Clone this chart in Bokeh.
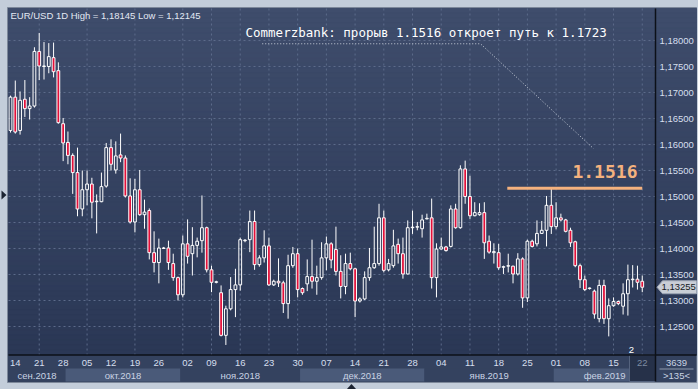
import numpy as np
from bokeh.plotting import figure
from bokeh.models import Range1d
from bokeh.core.properties import value
from bokeh.embed import file_html
from bokeh.resources import INLINE

# ---------------- data (EUR/USD daily) ----------------
opens = [1.1627, 1.1691, 1.1627, 1.1687, 1.1669, 1.1674, 1.1779, 1.1750, 1.1750, 1.1767,
         1.1742, 1.1640, 1.1604, 1.1579, 1.1546, 1.1476, 1.1513, 1.1524, 1.1490, 1.1490,
         1.1520, 1.1594, 1.1551, 1.1580, 1.1574, 1.1501, 1.1451, 1.1513, 1.1465, 1.1473,
         1.1392, 1.1373, 1.1400, 1.1401, 1.1371, 1.1344, 1.1311, 1.1409, 1.1390, 1.1406,
         1.1415, 1.1440, 1.1359, 1.1335, 1.1315, 1.1233, 1.1284, 1.1321, 1.1330, 1.1415,
         1.1417, 1.1452, 1.1369, 1.1382, 1.1405, 1.1330, 1.1337, 1.1334, 1.1294, 1.1367,
         1.1390, 1.1323, 1.1332, 1.1346, 1.1337, 1.1344, 1.1382, 1.1409, 1.1398, 1.1356,
         1.1327, 1.1371, 1.1361, 1.1299, 1.1303, 1.1344, 1.1363, 1.1371, 1.1459, 1.1359,
         1.1367, 1.1408, 1.1390, 1.1351, 1.1440, 1.1441, 1.1438, 1.1457, 1.1459, 1.1344,
         1.1399, 1.1403, 1.1404, 1.1476, 1.1440, 1.1553, 1.1500, 1.1463, 1.1465, 1.1469,
         1.1414, 1.1392, 1.1392, 1.1364, 1.1366, 1.1366, 1.1351, 1.1380, 1.1305, 1.1414,
         1.1409, 1.1429, 1.1435, 1.1483, 1.1442, 1.1459, 1.1455, 1.1435, 1.1413, 1.1367,
         1.1340, 1.1323, 1.1318, 1.1265, 1.1329, 1.1265, 1.1290, 1.1298, 1.1289, 1.1313,
         1.1340, 1.1341, 1.1337]
closes = [1.1691, 1.1624, 1.1685, 1.1669, 1.1674, 1.1779, 1.1751, 1.1751, 1.1769, 1.1740,
          1.1642, 1.1603, 1.1579, 1.1546, 1.1476, 1.1513, 1.1524, 1.1489, 1.1491, 1.1519,
          1.1594, 1.1562, 1.1578, 1.1574, 1.1501, 1.1451, 1.1513, 1.1465, 1.1470, 1.1392,
          1.1373, 1.1401, 1.1401, 1.1373, 1.1344, 1.1311, 1.1409, 1.1385, 1.1406, 1.1414,
          1.1440, 1.1359, 1.1335, 1.1336, 1.1233, 1.1284, 1.1321, 1.1330, 1.1417, 1.1416,
          1.1452, 1.1369, 1.1382, 1.1405, 1.1330, 1.1337, 1.1334, 1.1294, 1.1367, 1.1390,
          1.1321, 1.1315, 1.1346, 1.1337, 1.1344, 1.1382, 1.1409, 1.1378, 1.1356, 1.1327,
          1.1371, 1.1361, 1.1299, 1.1303, 1.1344, 1.1363, 1.1371, 1.1459, 1.1358, 1.1371,
          1.1405, 1.1390, 1.1351, 1.1440, 1.1441, 1.1442, 1.1455, 1.1458, 1.1344, 1.1399,
          1.1403, 1.1396, 1.1476, 1.1440, 1.1553, 1.1500, 1.1463, 1.1469, 1.1469, 1.1411,
          1.1393, 1.1394, 1.1363, 1.1365, 1.1367, 1.1351, 1.1380, 1.1305, 1.1414, 1.1404,
          1.1429, 1.1435, 1.1483, 1.1442, 1.1459, 1.1455, 1.1433, 1.1411, 1.1367, 1.1340,
          1.1321, 1.1324, 1.1274, 1.1329, 1.1265, 1.1290, 1.1298, 1.1294, 1.1313, 1.1340,
          1.1341, 1.1335, 1.13255]
highs = [1.1694, 1.1723, 1.1702, 1.1724, 1.1691, 1.1787, 1.18145, 1.1797, 1.1795, 1.1796,
         1.1758, 1.1651, 1.1625, 1.1583, 1.1594, 1.1550, 1.1550, 1.1536, 1.1504, 1.1546,
         1.1603, 1.1610, 1.1606, 1.1621, 1.1579, 1.1535, 1.1534, 1.1551, 1.1494, 1.1477,
         1.1433, 1.1419, 1.1403, 1.1415, 1.1390, 1.1346, 1.1425, 1.1456, 1.1441, 1.1421,
         1.1502, 1.1442, 1.1367, 1.1338, 1.1329, 1.1290, 1.1345, 1.1361, 1.1421, 1.1418,
         1.1473, 1.1473, 1.1387, 1.1435, 1.1421, 1.1340, 1.1381, 1.1338, 1.1388, 1.1403,
         1.1400, 1.1325, 1.1379, 1.1417, 1.1367, 1.1412, 1.1423, 1.1412, 1.1442, 1.1387,
         1.1390, 1.1392, 1.1363, 1.1306, 1.1356, 1.1401, 1.1442, 1.1486, 1.1473, 1.1380,
         1.1436, 1.1419, 1.1421, 1.1454, 1.1473, 1.1451, 1.1465, 1.1467, 1.1496, 1.1410,
         1.1421, 1.1405, 1.1483, 1.1486, 1.1560, 1.1569, 1.1540, 1.1489, 1.1487, 1.1489,
         1.1425, 1.1410, 1.1409, 1.1367, 1.1390, 1.1367, 1.1391, 1.1383, 1.1417, 1.1417,
         1.1454, 1.1453, 1.1501, 1.1516, 1.1489, 1.1467, 1.1457, 1.1440, 1.1415, 1.1371,
         1.1348, 1.1325, 1.1321, 1.1340, 1.1340, 1.1304, 1.1306, 1.1300, 1.1333, 1.1369,
         1.1368, 1.1367, 1.1348]
lows = [1.1623, 1.1621, 1.1619, 1.1653, 1.1648, 1.1671, 1.1724, 1.1725, 1.1737, 1.1729,
        1.1640, 1.1568, 1.1562, 1.1505, 1.1462, 1.1462, 1.1483, 1.1458, 1.1429, 1.1489,
        1.1517, 1.1550, 1.1544, 1.1566, 1.1498, 1.1448, 1.1431, 1.1463, 1.1438, 1.1379,
        1.1354, 1.1333, 1.1399, 1.1359, 1.1338, 1.1300, 1.1306, 1.1371, 1.1348, 1.1383,
        1.1392, 1.1354, 1.1316, 1.1333, 1.1231, 1.12145, 1.1281, 1.1268, 1.1319, 1.1412,
        1.1393, 1.1359, 1.1365, 1.1373, 1.1328, 1.1328, 1.1326, 1.1276, 1.1265, 1.1363,
        1.1306, 1.1311, 1.1318, 1.1323, 1.1311, 1.1340, 1.1358, 1.1362, 1.1348, 1.1304,
        1.1312, 1.1358, 1.1268, 1.1296, 1.1301, 1.1338, 1.1361, 1.1367, 1.1354, 1.1356,
        1.1363, 1.1371, 1.1342, 1.1350, 1.1428, 1.1435, 1.1421, 1.1456, 1.1323, 1.1306,
        1.1398, 1.1394, 1.1402, 1.1438, 1.1438, 1.1486, 1.1457, 1.1462, 1.1463, 1.1380,
        1.1390, 1.1371, 1.1359, 1.1351, 1.1354, 1.1333, 1.1348, 1.1286, 1.1297, 1.1402,
        1.1404, 1.1428, 1.1404, 1.1428, 1.1437, 1.1452, 1.1431, 1.1403, 1.1364, 1.1324,
        1.1318, 1.1321, 1.1265, 1.1258, 1.1255, 1.1231, 1.1288, 1.1291, 1.1273, 1.1271,
        1.1325, 1.1321, 1.1316]

price_ticks = [1.125, 1.130, 1.135, 1.140, 1.145, 1.150, 1.155, 1.160, 1.165, 1.170, 1.175, 1.180]
date_tick_bars = [1, 6, 11, 16, 21, 26, 31, 37, 42, 48, 54, 60, 66, 72, 78, 84, 90, 96, 102, 108, 114, 120, 126, 132]
date_tick_labels = ["14", "21", "28", "05", "12", "19", "26", "02", "09", "16", "23", "30",
                    "07", "14", "21", "28", "04", "11", "18", "25", "01", "08", "15", "22"]
grid_bars = [6, 16, 26, 36, 42, 48, 54, 60, 66, 72, 78, 84, 90, 96, 102, 108, 114, 120, 126, 132]
month_labels = ["сен.2018", "окт.2018", "ноя.2018", "дек.2018", "янв.2019", "фев.2019"]
month_start_bars = [-0.5, 11.5, 35.5, 60.5, 86.5, 113.5]
level_price = 1.1516
level_from_bar = 103.8
title = "Commerzbank: прорыв 1.1516 откроет путь к 1.1723"
header = "EUR/USD 1D High = {} Low = {}".format(
    f"{max(highs):.5f}".replace(".", ","), f"{min(lows):.5f}".replace(".", ","))

# ---------------- geometry (page pixels) ----------------
W, H = 698, 389
PX_BAR = 4.786
PX_PRICE = 5200.0
PAN_L, PAN_T, PAN_R, PAN_B = 8, 8, 696, 381   # dark chart panel
PLOT_R = 655      # right edge of candle area
PLOT_B = 354.5    # bottom edge of candle area
x0 = -10 / PX_BAR
x1 = x0 + W / PX_BAR
y1 = 1.18 + 40 / PX_PRICE
y0 = y1 - H / PX_PRICE
xr_plot = x0 + PLOT_R / PX_BAR

LIGHT = "#c3cdda"
p = figure(width=W, height=H, x_range=Range1d(x0, x1), y_range=Range1d(y0, y1),
           output_backend="svg", toolbar_location=None, min_border=0,
           x_axis_type=None, y_axis_type=None, outline_line_color=None,
           background_fill_color=LIGHT, border_fill_color=LIGHT)
p.extra_x_ranges = {"px": Range1d(0, W)}
p.extra_y_ranges = {"py": Range1d(H, 0)}

try:
    from bokeh.models import GlobalInlineStyleSheet
    p.stylesheets = [GlobalInlineStyleSheet(css="body{background:#c3cdda;}")]
except Exception:
    pass

PX = dict(x_range_name="px", y_range_name="py")

# outer frame decorations
p.patch(x=[1, 6, 1], y=[190, 194.5, 199], fill_color="#1b2331", line_color=None, **PX)
p.patch(x=[346, 351, 356], y=[389, 383.5, 389], fill_color="#1b2331", line_color=None, **PX)
p.quad(left=[PAN_L - 1], right=[PAN_R], top=[PAN_T - 1], bottom=[PAN_B + 1],
       fill_color="#34425f", line_color="#7d889a", line_width=1, **PX)

# background gradient of the chart area
n = 70
edges = np.linspace(PAN_T, PLOT_B, n + 1)
c_top = np.array([0x3f, 0x4d, 0x6c])
c_bot = np.array([0x2b, 0x38, 0x56])
cols = []
for k in range(n):
    t = k / (n - 1)
    cc = (c_top * (1 - t) + c_bot * t).astype(int)
    cols.append("#%02x%02x%02x" % tuple(cc))
p.quad(left=PAN_L, right=PAN_R, top=edges[:-1], bottom=edges[1:], fill_color=cols, line_color=cols,
       line_width=1, **PX)

# date strip + month bands
p.quad(left=[PAN_L], right=[PAN_R], top=[PLOT_B], bottom=[PAN_B], fill_color="#34425f",
       line_color=None, **PX)
ends = month_start_bars[1:] + [xr_plot]
band_l = [max(s, x0 + PAN_L / PX_BAR) for s in month_start_bars]
band_r = [min(e, xr_plot) for e in ends]
band_cols = ["#34425f" if i % 2 == 0 else "#4a5a79" for i in range(len(month_labels))]
p.quad(left=band_l, right=band_r, top=[368] * len(band_l), bottom=[PAN_B] * len(band_l),
       fill_color=band_cols, line_color=None, y_range_name="py")
p.text(x=[(a + b) / 2 for a, b in zip(band_l, band_r)], y=[375] * len(month_labels),
       text=month_labels, text_font=value("Liberation Sans"), text_font_size="9.5px",
       text_color="#c9d3e4", text_align="center", text_baseline="middle", y_range_name="py")

# current-bar box on the date axis
p.quad(left=[629], right=[PLOT_R], top=[PLOT_B], bottom=[PAN_B], fill_color="#263149",
       line_color="#55637e", line_width=1, **PX)

p.text(x=date_tick_bars[:-1], y=[362.5] * (len(date_tick_bars) - 1), text=date_tick_labels[:-1],
       text_font=value("Liberation Sans"), text_font_size="9.5px", text_color="#d6dfee",
       text_align="center", text_baseline="middle", y_range_name="py")
p.text(x=date_tick_bars[-1:], y=[362.5], text=date_tick_labels[-1:],
       text_font=value("Liberation Sans"), text_font_size="9.5px", text_color="#7d8aa2",
       text_align="center", text_baseline="middle", y_range_name="py")

# grid
p.segment(x0=[PAN_L] * len(price_ticks), x1=[PLOT_R] * len(price_ticks), y0=price_ticks, y1=price_ticks,
          line_color="#5c6b8a", line_dash="2 3", line_width=1, x_range_name="px")
p.segment(x0=grid_bars, x1=grid_bars, y0=[PAN_T] * len(grid_bars), y1=[PLOT_B] * len(grid_bars),
          line_color="#5c6b8a", line_dash="2 3", line_width=1, y_range_name="py")

# price labels
p.text(x=[659] * len(price_ticks), y=price_ticks,
       text=[f"{v:.5f}".replace(".", ",") for v in price_ticks],
       text_font=value("Liberation Sans"), text_font_size="9.5px", text_color="#d6dfee",
       text_align="left", text_baseline="middle", x_range_name="px")

# candles
bars = np.arange(len(opens))
o = np.array(opens); c = np.array(closes); h = np.array(highs); l = np.array(lows)
top = np.maximum(o, c); bot = np.minimum(o, c)
p.segment(x0=bars, x1=bars, y0=h, y1=top, line_color="white", line_width=1)
p.segment(x0=bars, x1=bars, y0=bot, y1=l, line_color="white", line_width=1)
bull = c >= o
hw = 0.29
p.quad(left=bars[bull] - hw, right=bars[bull] + hw, top=top[bull], bottom=bot[bull],
       fill_alpha=0, line_color="white", line_width=1)
p.quad(left=bars[~bull] - hw, right=bars[~bull] + hw, top=top[~bull], bottom=bot[~bull],
       fill_color="#e3103a", line_color="white", line_width=1)

# separators
p.segment(x0=[PLOT_R], x1=[PLOT_R], y0=[PAN_T], y1=[PAN_B], line_color="#0c1018", line_width=1.5, **PX)
p.segment(x0=[PAN_L], x1=[PAN_R], y0=[PLOT_B], y1=[PLOT_B], line_color="#0c1018", line_width=1.5, **PX)

# last price marker
last = closes[-1]
dy = 6.5 / PX_PRICE
p.patch(x=[656.5, 662, PAN_R, PAN_R, 662], y=[last, last + dy, last + dy, last - dy, last - dy],
        fill_color="#c9ced6", line_color="#9aa3b2", line_width=1, x_range_name="px")
p.text(x=[661], y=[last], text=[f"{last:.5f}".replace(".", ",")], text_font=value("Liberation Sans"),
       text_font_size="9.5px", text_color="#151a22", text_align="left", text_baseline="middle",
       x_range_name="px")

# bottom-right info box
p.text(x=[676, 676], y=[362, 375], text=["3639", ">135<"], text_font=value("Liberation Sans"),
       text_font_size="9.5px", text_color="#c9d3e4", text_align="center", text_baseline="middle", **PX)
p.segment(x0=[659], x1=[693], y0=[368.5], y1=[368.5], line_color="#8d99ae", line_width=1, **PX)
p.text(x=[631], y=[349], text=["2"], text_font=value("Liberation Sans"), text_font_size="9.5px",
       text_color="white", text_align="center", text_baseline="middle", **PX)

# header
p.text(x=[10], y=[15], text=[header], text_font=value("Liberation Sans"), text_font_size="9.5px",
       text_color="#e2e8f3", text_align="left", text_baseline="middle", **PX)

# annotation
p.text(x=[245], y=[31.5], text=[title], text_font=value("DejaVu Sans Mono"), text_font_size="12.5px",
       text_color="white", text_align="left", text_baseline="middle", **PX)
p.line(x=[52.6, 98.2, 121.8], y=[1.17937, 1.17937, 1.15923], line_color="#c9d0db",
       line_dash="1 2", line_width=1)
p.line(x=[level_from_bar, len(opens) - 1], y=[level_price, level_price], line_color="#f5b27e",
       line_width=3)
p.text(x=[len(opens) - 2], y=[level_price], y_offset=-10, text=[f"{level_price:.4f}"],
       text_font=value("DejaVu Sans Mono"), text_font_size="18px", text_font_style="bold",
       text_color="#f5b27e", text_align="right", text_baseline="bottom")

open("out.html", "w").write(file_html(p, INLINE))
